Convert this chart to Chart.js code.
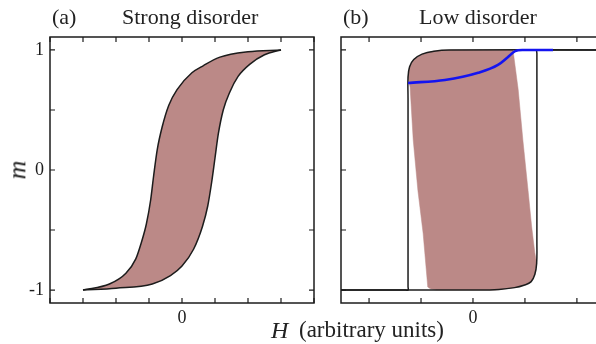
<!DOCTYPE html>
<html>
<head>
<meta charset="utf-8">
<script src="https://cdn.jsdelivr.net/npm/chart.js@4.4.1/dist/chart.umd.min.js"></script>
<style>
  html, body { margin: 0; padding: 0; background: #fff; overflow: hidden; width: 596px; height: 344px; position: relative; }
  canvas { position: absolute; top: 0; }
  .t { position: absolute; font-family: "Liberation Serif", "DejaVu Serif", serif; color: #222; white-space: nowrap; line-height: 1; }
  .it { font-style: italic; }
</style>
</head>
<body>
<canvas id="chart-a" width="320" height="344" style="left:0"></canvas>
<canvas id="chart-b" width="290" height="344" style="left:320px"></canvas>

<div class="t" style="left:52px;top:6px;font-size:22px">(a)</div>
<div class="t" style="left:122px;top:6px;font-size:22px">Strong disorder</div>
<div class="t" style="left:343px;top:6px;font-size:22px">(b)</div>
<div class="t" style="left:419px;top:6px;font-size:22px">Low disorder</div>
<div class="t it" style="left:8px;top:157px;font-size:26px;transform:rotate(-90deg)">m</div>
<div class="t it" style="left:271px;top:318px;font-size:24px">H</div>
<div class="t" style="left:299px;top:318px;font-size:23px">(arbitrary units)</div>

<script>
/* Hysteresis loops m(H): (a) strong disorder, (b) low disorder. */

// ----- shared axes -----
const yTickVals = [-1, -0.5, 0, 0.5, 1];
const yTickText = ["-1", "", "0", "", "1"];

// ----- panel (a) -----
const aTickVals = [-4, -3, -2, -1, 0, 1, 2, 3, 4];
// left branch (field decreasing), ordered by H
const aLeftH = [-3, -2.2, -1.7, -1.4, -1.25, -1.08, -0.95, -0.86, -0.75, -0.6, -0.4, -0.15, 0.3, 0.65, 1.15, 2.0, 3];
const aLeftM = [-1, -0.95, -0.86, -0.74, -0.62, -0.45, -0.25, -0.05, 0.17, 0.36, 0.54, 0.67, 0.81, 0.87, 0.94, 0.985, 1];
// right branch (field increasing), ordered by H
const aRightH = [-3, -2.0, -0.9, -0.35, 0.0, 0.35, 0.62, 0.78, 0.9, 1.0, 1.1, 1.25, 1.45, 1.7, 2.05, 2.5, 3];
const aRightM = [-1, -0.985, -0.95, -0.88, -0.8, -0.66, -0.47, -0.3, -0.1, 0.1, 0.3, 0.5, 0.65, 0.78, 0.88, 0.96, 1];

// ----- panel (b) -----
const bTickVals = [-2, -1, 0, 1, 2];
// black descending branch (right to left)
const bDownH = [2.6, -0.45, -0.75, -0.98, -1.14, -1.22, -1.25, -1.25, -1.25, -1.25, -1.3, -2.6];
const bDownM = [1, 1, 0.99, 0.965, 0.92, 0.86, 0.77, 0.6, -0.97, -1, -1, -1];
// black ascending branch (left to right)
const bUpH = [-2.6, 0.1, 0.5, 0.8, 0.98, 1.12, 1.19, 1.225, 1.23, 1.23, 1.23, 1.28, 2.6];
const bUpM = [-1, -1, -0.995, -0.98, -0.96, -0.93, -0.87, -0.78, -0.6, 0.97, 1, 1, 1];
// shaded region
const bFillH = [-0.87, -0.96, -1.06, -1.15, -1.21, -1.25, -1.22, -1.14, -0.98, -0.75, -0.45, 0.77, 0.87, 0.96, 1.06, 1.13, 1.19, 1.225, 1.19, 1.12, 0.98, 0.8, 0.42, -0.7, -0.82, -0.87];
const bFillM = [-0.975, -0.525, -0.17, 0.25, 0.69, 0.77, 0.86, 0.92, 0.965, 0.99, 1, 1, 0.67, 0.25, -0.17, -0.475, -0.69, -0.78, -0.87, -0.93, -0.96, -0.98, -1, -1, -0.99, -0.975];
// blue curve
const bBlueH = [-1.25, -0.54, 0.1, 0.48, 0.67, 0.81, 0.95, 1.54];
const bBlueM = [0.725, 0.75, 0.81, 0.875, 0.94, 0.99, 1.0, 1.0];

const FILL = "#bb8987";
const INK = "#1c1c1c";
const FONT = { family: "'Liberation Serif', 'DejaVu Serif', serif", size: 18 };

function pts(xs, ys) {
  return xs.map((x, i) => ({ x: x, y: ys[i] }));
}

// Frame around the plot area plus inward tick marks on all four sides.
const frameTicks = {
  id: "frameTicks",
  afterDraw(chart) {
    const { ctx, chartArea: a, scales } = chart;
    ctx.save();
    ctx.strokeStyle = INK;
    ctx.lineWidth = 1.5;
    ctx.strokeRect(a.left, a.top, a.right - a.left, a.bottom - a.top);
    ctx.lineWidth = 1.2;
    ctx.beginPath();
    scales.x.ticks.forEach((t) => {
      const px = scales.x.getPixelForValue(t.value);
      ctx.moveTo(px, a.bottom); ctx.lineTo(px, a.bottom - 5);
      ctx.moveTo(px, a.top); ctx.lineTo(px, a.top + 5);
    });
    scales.y.ticks.forEach((t) => {
      const py = scales.y.getPixelForValue(t.value);
      ctx.moveTo(a.left, py); ctx.lineTo(a.left + 5, py);
      ctx.moveTo(a.right, py); ctx.lineTo(a.right - 5, py);
    });
    ctx.stroke();
    ctx.restore();
  },
};

function scalesFor(xMin, xMax, xTicks, yWidth, showY) {
  return {
    x: {
      type: "linear", min: xMin, max: xMax,
      grid: { display: false, drawTicks: false }, border: { display: false },
      afterBuildTicks: (s) => { s.ticks = xTicks.map((v) => ({ value: v })); },
      ticks: {
        callback: (v) => (v === 0 ? "0" : ""),
        font: FONT, color: INK, padding: 4, maxRotation: 0, autoSkip: false,
      },
      afterFit: (s) => { s.height = 41; },
    },
    y: {
      type: "linear", min: -1.108, max: 1.108,
      grid: { display: false, drawTicks: false }, border: { display: false },
      afterBuildTicks: (s) => { s.ticks = yTickVals.map((v) => ({ value: v })); },
      ticks: {
        callback: (v) => (showY ? yTickText[yTickVals.indexOf(v)] : ""),
        font: FONT, color: INK, padding: 6, autoSkip: false,
      },
      afterFit: (s) => { s.width = yWidth; },
    },
  };
}

const baseOptions = {
  responsive: false,
  animation: false,
  plugins: {
    legend: { display: false },
    tooltip: { enabled: false },
    filler: { drawTime: "beforeDatasetsDraw" },
  },
  elements: { point: { radius: 0 } },
};

// Panel (a): two branches, area between them shaded.
new Chart(document.getElementById("chart-a"), {
  type: "scatter",
  data: {
    datasets: [
      {
        data: pts(aLeftH, aLeftM), showLine: true,
        fill: "+1", backgroundColor: FILL,
        borderColor: INK, borderWidth: 1.5,
        cubicInterpolationMode: "monotone",
      },
      {
        data: pts(aRightH, aRightM), showLine: true,
        borderColor: INK, borderWidth: 1.5,
        cubicInterpolationMode: "monotone",
      },
    ],
  },
  options: Object.assign({}, baseOptions, {
    layout: { padding: { top: 37, right: 6, left: 0, bottom: 0 } },
    scales: scalesFor(-4, 4, aTickVals, 50, true),
  }),
  plugins: [frameTicks],
});

// Panel (b): blue on top, then black branches, then the shaded area.
new Chart(document.getElementById("chart-b"), {
  type: "scatter",
  data: {
    datasets: [
      {
        data: pts(bBlueH, bBlueM), showLine: true,
        borderColor: "#1414f0", borderWidth: 2.6,
        cubicInterpolationMode: "monotone",
      },
      {
        data: pts(bDownH, bDownM), showLine: true,
        borderColor: INK, borderWidth: 1.5, tension: 0.4,
      },
      {
        data: pts(bUpH, bUpM), showLine: true,
        borderColor: INK, borderWidth: 1.5, tension: 0.4,
      },
      {
        data: pts(bFillH, bFillM), showLine: true,
        fill: "shape", backgroundColor: FILL,
        borderColor: FILL, borderWidth: 0.5, tension: 0,
      },
    ],
  },
  options: Object.assign({}, baseOptions, {
    layout: { padding: { top: 37, right: 4, left: 0, bottom: 0 } },
    scales: scalesFor(-2.54, 2.56, bTickVals, 21, false),
  }),
  plugins: [frameTicks],
});
</script>
</body>
</html>
